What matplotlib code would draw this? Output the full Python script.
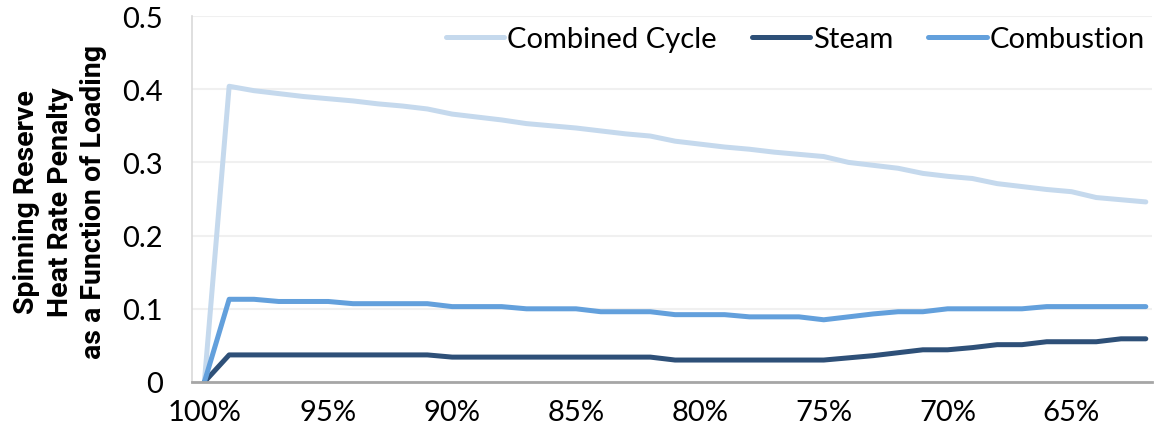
import numpy as np
import matplotlib
matplotlib.use("Agg")
import matplotlib.pyplot as plt

# loading levels (percent), 100% down to 62%
loading = list(range(100, 61, -1))

combined_cycle = [0.000, 0.404, 0.398, 0.394, 0.390, 0.387, 0.384, 0.380, 0.377, 0.373,
                  0.366, 0.362, 0.358, 0.353, 0.350, 0.347, 0.343, 0.339, 0.336, 0.329,
                  0.325, 0.321, 0.318, 0.314, 0.311, 0.308, 0.300, 0.296, 0.292, 0.285,
                  0.281, 0.278, 0.271, 0.267, 0.263, 0.260, 0.252, 0.249, 0.246]
steam = [0.000, 0.037, 0.037, 0.037, 0.037, 0.037, 0.037, 0.037, 0.037, 0.037,
         0.034, 0.034, 0.034, 0.034, 0.034, 0.034, 0.034, 0.034, 0.034, 0.030,
         0.030, 0.030, 0.030, 0.030, 0.030, 0.030, 0.033, 0.036, 0.040, 0.044,
         0.044, 0.047, 0.051, 0.051, 0.055, 0.055, 0.055, 0.059, 0.059]
combustion = [0.000, 0.113, 0.113, 0.110, 0.110, 0.110, 0.107, 0.107, 0.107, 0.107,
              0.103, 0.103, 0.103, 0.100, 0.100, 0.100, 0.096, 0.096, 0.096, 0.092,
              0.092, 0.092, 0.089, 0.089, 0.089, 0.085, 0.089, 0.093, 0.096, 0.096,
              0.100, 0.100, 0.100, 0.100, 0.103, 0.103, 0.103, 0.103, 0.103]

x_ticks = [100, 95, 90, 85, 80, 75, 70, 65]
x_tick_labels = ["100%", "95%", "90%", "85%", "80%", "75%", "70%", "65%"]
y_ticks = [0, 0.1, 0.2, 0.3, 0.4, 0.5]
y_tick_labels = ["0", "0.1", "0.2", "0.3", "0.4", "0.5"]

plt.rcParams['font.family'] = ['Lato', 'DejaVu Sans']

fig = plt.figure(figsize=(11.54, 4.39), dpi=100)
ax = fig.add_axes([192 / 1154, 56 / 439, 960 / 1154, 366 / 439])

line_kw = dict(linewidth=3.6, solid_joinstyle='round', solid_capstyle='round')
ax.plot(loading, combined_cycle, color='#c5d9ed', label='Combined Cycle', **line_kw)
ax.plot(loading, steam, color='#2e5078', label='Steam', **line_kw)
ax.plot(loading, combustion, color='#63a0dc', label='Combustion', **line_kw)

ax.set_xlim(100.5, 61.75)
ax.set_ylim(0, 0.5)
ax.set_xticks(x_ticks)
ax.set_xticklabels(x_tick_labels)
ax.set_yticks(y_ticks)
ax.set_yticklabels(y_tick_labels)
ax.tick_params(axis='both', length=0, labelsize=21, colors='black')
ax.tick_params(axis='x', pad=12)
ax.tick_params(axis='y', pad=21)

ax.grid(True, axis='y', color='#f0f0f0', linewidth=1.5)
ax.set_axisbelow(True)
for side in ['top', 'right']:
    ax.spines[side].set_visible(False)
ax.spines['left'].set_color('#d9d9d9')
ax.spines['left'].set_linewidth(1.2)
ax.spines['bottom'].set_color('#a6a6a6')
ax.spines['bottom'].set_linewidth(2)

ax.legend(loc='upper right', bbox_to_anchor=(1.02, 1.045), ncol=3, frameon=False,
          fontsize=21, handlelength=2.0, handletextpad=0.1, columnspacing=1.2)

fig.text(60 / 1154, (439 - 202) / 439,
         "Spinning Reserve\nHeat Rate Penalty\nas a Function of Loading",
         rotation=90, ha='center', va='center', multialignment='center',
         fontsize=20.5, fontweight='bold', family=['Roboto', 'DejaVu Sans'],
         linespacing=1.3)

fig.savefig("out.png", dpi=100)
